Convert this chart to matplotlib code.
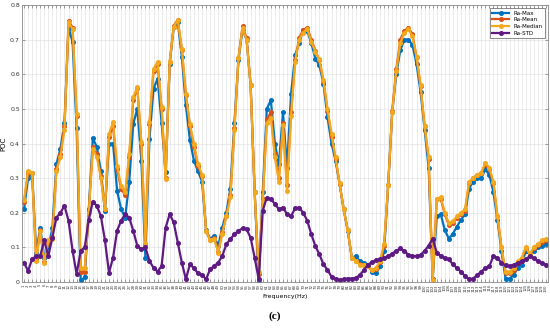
import numpy as np
import matplotlib
matplotlib.use('Agg')
import matplotlib.pyplot as plt

# frequency bins (x categories)
freq = np.arange(1, 131)

ra_max = [0.21, 0.30, 0.315, 0.085, 0.157, 0.07, 0.10, 0.155, 0.34, 0.385,
          0.46, 0.735, 0.693, 0.444, 0.005, 0.013, 0.21, 0.415, 0.39, 0.32,
          0.205, 0.40, 0.40, 0.264, 0.21, 0.186, 0.288, 0.457, 0.50, 0.35,
          0.07, 0.413, 0.558, 0.587, 0.46, 0.317, 0.63, 0.737, 0.75, 0.65,
          0.51, 0.41, 0.35, 0.32, 0.29, 0.15, 0.125, 0.133, 0.104, 0.157,
          0.20, 0.27, 0.46, 0.64, 0.73, 0.70, 0.568, 0.26, 0.0, 0.26,
          0.50, 0.525, 0.40, 0.34, 0.49, 0.33, 0.544, 0.655, 0.689, 0.728,
          0.725, 0.69, 0.645, 0.626, 0.573, 0.476, 0.40, 0.35, 0.283, 0.21,
          0.148, 0.07, 0.075, 0.06, 0.055, 0.05, 0.03, 0.025, 0.045, 0.09,
          0.28, 0.49, 0.60, 0.67, 0.70, 0.70, 0.685, 0.63, 0.55, 0.44,
          0.33, 0.01, 0.19, 0.195, 0.15, 0.125, 0.14, 0.16, 0.18, 0.195,
          0.27, 0.29, 0.30, 0.30, 0.325, 0.31, 0.26, 0.18, 0.09, 0.01,
          0.01, 0.02, 0.04, 0.05, 0.09, 0.08, 0.09, 0.10, 0.105, 0.11]

ra_mean = [0.23, 0.315, 0.315, 0.065, 0.15, 0.058, 0.115, 0.13, 0.325, 0.37,
           0.45, 0.755, 0.735, 0.48, 0.03, 0.03, 0.205, 0.39, 0.37, 0.305,
           0.21, 0.42, 0.45, 0.325, 0.27, 0.25, 0.36, 0.525, 0.56, 0.40,
           0.11, 0.455, 0.61, 0.63, 0.50, 0.30, 0.635, 0.74, 0.757, 0.67,
           0.54, 0.45, 0.39, 0.335, 0.305, 0.148, 0.12, 0.127, 0.088, 0.143,
           0.192, 0.25, 0.445, 0.648, 0.738, 0.705, 0.57, 0.26, 0.022, 0.24,
           0.47, 0.49, 0.37, 0.30, 0.46, 0.28, 0.49, 0.64, 0.705, 0.728,
           0.735, 0.70, 0.668, 0.64, 0.58, 0.495, 0.42, 0.355, 0.283, 0.21,
           0.15, 0.07, 0.062, 0.052, 0.05, 0.046, 0.034, 0.038, 0.058, 0.105,
           0.28, 0.495, 0.615, 0.70, 0.725, 0.735, 0.715, 0.65, 0.565, 0.45,
           0.355, 0.008, 0.24, 0.24, 0.195, 0.165, 0.17, 0.185, 0.195, 0.205,
           0.285, 0.30, 0.31, 0.315, 0.34, 0.325, 0.285, 0.19, 0.10, 0.025,
           0.025, 0.035, 0.055, 0.065, 0.098, 0.08, 0.098, 0.108, 0.115, 0.12]

ra_median = [0.237, 0.32, 0.315, 0.06, 0.148, 0.055, 0.12, 0.125, 0.32, 0.36,
             0.44, 0.75, 0.73, 0.486, 0.04, 0.04, 0.20, 0.385, 0.36, 0.30,
             0.21, 0.428, 0.462, 0.336, 0.278, 0.259, 0.37, 0.534, 0.563, 0.404,
             0.114, 0.462, 0.616, 0.636, 0.505, 0.298, 0.636, 0.737, 0.756, 0.674,
             0.544, 0.455, 0.40, 0.34, 0.31, 0.148, 0.12, 0.125, 0.085, 0.14,
             0.19, 0.245, 0.44, 0.646, 0.735, 0.70, 0.568, 0.259, 0.03, 0.235,
             0.46, 0.475, 0.36, 0.29, 0.452, 0.264, 0.48, 0.636, 0.70, 0.72,
             0.732, 0.694, 0.665, 0.643, 0.583, 0.50, 0.428, 0.36, 0.285, 0.21,
             0.15, 0.07, 0.06, 0.05, 0.05, 0.045, 0.035, 0.04, 0.06, 0.11,
             0.28, 0.49, 0.61, 0.69, 0.72, 0.73, 0.71, 0.65, 0.57, 0.45,
             0.36, 0.005, 0.24, 0.245, 0.20, 0.17, 0.175, 0.19, 0.20, 0.21,
             0.29, 0.30, 0.31, 0.315, 0.345, 0.33, 0.29, 0.19, 0.10, 0.03,
             0.03, 0.04, 0.06, 0.07, 0.10, 0.08, 0.10, 0.11, 0.12, 0.125]

ra_std = [0.056, 0.032, 0.066, 0.075, 0.075, 0.12, 0.075, 0.128, 0.186, 0.20,
          0.22, 0.177, 0.09, 0.023, 0.09, 0.10, 0.18, 0.232, 0.22, 0.19,
          0.12, 0.027, 0.07, 0.148, 0.177, 0.196, 0.186, 0.148, 0.104, 0.095,
          0.10, 0.061, 0.041, 0.03, 0.046, 0.157, 0.196, 0.172, 0.114, 0.056,
          0.008, 0.051, 0.04, 0.025, 0.02, 0.008, 0.037, 0.046, 0.056, 0.075,
          0.109, 0.124, 0.138, 0.148, 0.155, 0.152, 0.128, 0.07, 0.008, 0.206,
          0.244, 0.24, 0.225, 0.21, 0.215, 0.196, 0.19, 0.213, 0.215, 0.2,
          0.177, 0.138, 0.104, 0.08, 0.051, 0.035, 0.015, 0.008, 0.006, 0.008,
          0.01, 0.01, 0.012, 0.02, 0.035, 0.05, 0.058, 0.063, 0.066, 0.07,
          0.075, 0.082, 0.09, 0.097, 0.09, 0.078, 0.075, 0.075, 0.078, 0.09,
          0.105, 0.125, 0.085, 0.075, 0.07, 0.065, 0.051, 0.04, 0.03, 0.017,
          0.008, 0.01, 0.02, 0.03, 0.04, 0.045, 0.075, 0.07, 0.055, 0.048,
          0.045, 0.05, 0.055, 0.06, 0.065, 0.075, 0.068, 0.06, 0.055, 0.05]

series = [('Ra-Max', ra_max, '#0072BD'),
          ('Ra-Mean', ra_mean, '#D95319'),
          ('Ra-Median', ra_median, '#F2A91E'),
          ('Ra-STD', ra_std, '#5E1A82')]

fig = plt.figure(figsize=(5.5, 3.29), dpi=100)
ax = fig.add_axes([22 / 550, 1 - 282 / 329, 526 / 550, 277 / 329])

for name, vals, col in series:
    ax.plot(freq, vals, '-o', color=col, lw=1.6, ms=2.6, label=name)

ax.set_xlim(0.5, 130.5)
ax.set_ylim(0, 0.8)
ax.set_xticks(freq)
ax.set_xticklabels([str(f) for f in freq], rotation=90, fontsize=2.8, color='#333333')
yt = [0, 0.1, 0.2, 0.3, 0.4, 0.5, 0.6, 0.7, 0.8]
ax.set_yticks(yt)
ax.set_yticklabels(['0', '0.1', '0.2', '0.3', '0.4', '0.5', '0.6', '0.7', '0.8'],
                   fontsize=4.5, color='#333333')
ax.tick_params(axis='both', direction='in', top=True, right=True,
               length=2.5, width=0.5, color='#777777', pad=1.5)
ax.grid(True, color='#e3e3e3', lw=0.5)
ax.set_axisbelow(True)
for s in ax.spines.values():
    s.set_color('#888888')
    s.set_linewidth(0.6)

ax.set_xlabel('Frequency(Hz)', fontsize=4.5, labelpad=2)
ax.set_ylabel('POC', fontsize=5, labelpad=3)

leg = ax.legend(loc='upper right', fontsize=4, frameon=True, fancybox=False,
                edgecolor='#333333', handlelength=3, borderpad=0.4,
                labelspacing=0.3, borderaxespad=0.6)
leg.get_frame().set_linewidth(0.5)

fig.text(0.5, 1 - 316 / 329, '(c)', ha='center', va='center', fontsize=8,
         family='Liberation Serif', weight='bold')

fig.savefig('out.png', dpi=100)
